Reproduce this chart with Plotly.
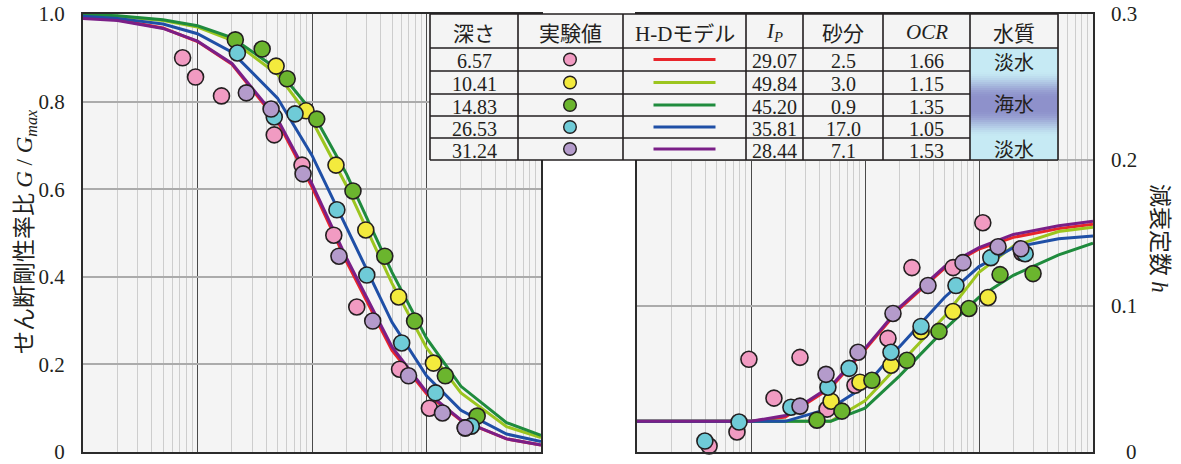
import plotly.graph_objects as go

W, H = 1181, 464

# ---------------- data ----------------
depths = ["6.57", "10.41", "14.83", "26.53", "31.24"]
ip_vals = ["29.07", "49.84", "45.20", "35.81", "28.44"]
sand_vals = ["2.5", "3.0", "0.9", "17.0", "7.1"]
ocr_vals = ["1.66", "1.15", "1.35", "1.05", "1.53"]
water_labels = ["淡水", "海水", "淡水"]

marker_colors = ["#f19bc2", "#f3ea3d", "#6bb52e", "#6fcbd7", "#b49bcb"]
line_colors = ["#e8252b", "#9cc51f", "#1f8b3d", "#1f4fa6", "#7a1f87"]

# strain grid for the H-D model curves
strain_grid = [1e-6, 2e-6, 5e-6, 1e-5, 2e-5, 5e-5, 1e-4, 2e-4, 5e-4, 1e-3, 2e-3, 5e-3, 1e-2]

# G/Gmax model curves
g_model_657 = [0.993, 0.987, 0.968, 0.937, 0.885, 0.755, 0.605, 0.435, 0.232, 0.133, 0.072, 0.030, 0.016]
g_model_1041 = [0.998, 0.995, 0.985, 0.970, 0.940, 0.862, 0.757, 0.608, 0.385, 0.238, 0.135, 0.058, 0.033]
g_model_1483 = [0.999, 0.996, 0.987, 0.973, 0.946, 0.874, 0.777, 0.635, 0.410, 0.260, 0.150, 0.067, 0.038]
g_model_2653 = [0.995, 0.990, 0.977, 0.955, 0.913, 0.808, 0.677, 0.512, 0.296, 0.174, 0.095, 0.041, 0.024]
g_model_3124 = [0.990, 0.985, 0.967, 0.938, 0.887, 0.760, 0.612, 0.443, 0.240, 0.137, 0.073, 0.030, 0.016]

# damping model curves
h_model_657 = [0.021, 0.021, 0.021, 0.021, 0.024, 0.044, 0.070, 0.098, 0.126, 0.139, 0.147, 0.153, 0.156]
h_model_1041 = [0.021, 0.021, 0.021, 0.021, 0.021, 0.021, 0.035, 0.060, 0.093, 0.123, 0.141, 0.151, 0.154]
h_model_1483 = [0.021, 0.021, 0.021, 0.021, 0.021, 0.021, 0.030, 0.052, 0.084, 0.106, 0.121, 0.135, 0.143]
h_model_2653 = [0.021, 0.021, 0.021, 0.021, 0.021, 0.030, 0.045, 0.072, 0.106, 0.127, 0.140, 0.146, 0.148]
h_model_3124 = [0.021, 0.021, 0.021, 0.021, 0.025, 0.045, 0.071, 0.099, 0.127, 0.140, 0.149, 0.155, 0.158]

# G/Gmax test results
g_strain_657 = [7.41e-6, 9.62e-6, 1.62e-5, 4.68e-5, 8.18e-5, 1.55e-4, 2.46e-4, 5.82e-4, 1.06e-3, 2.18e-3]
g_val_657 = [0.900, 0.856, 0.813, 0.724, 0.655, 0.495, 0.331, 0.189, 0.100, 0.055]
g_strain_1041 = [4.86e-5, 8.87e-5, 1.62e-4, 2.95e-4, 5.71e-4, 1.15e-3]
g_val_1041 = [0.881, 0.779, 0.655, 0.507, 0.354, 0.203]
g_strain_1483 = [2.14e-5, 3.67e-5, 6.07e-5, 1.10e-4, 2.28e-4, 4.32e-4, 7.87e-4, 1.46e-3, 2.77e-3]
g_val_1483 = [0.941, 0.920, 0.852, 0.760, 0.596, 0.447, 0.299, 0.174, 0.082]
g_strain_2653 = [2.23e-5, 4.68e-5, 7.11e-5, 1.65e-4, 3.01e-4, 6.07e-4, 1.20e-3, 2.46e-3]
g_val_2653 = [0.911, 0.765, 0.772, 0.553, 0.404, 0.249, 0.135, 0.059]
g_strain_3124 = [2.67e-5, 4.39e-5, 8.36e-5, 1.72e-4, 3.39e-4, 6.97e-4, 1.38e-3, 2.18e-3]
g_val_3124 = [0.820, 0.783, 0.635, 0.447, 0.299, 0.174, 0.089, 0.055]

# damping test results
h_strain_657 = [4.29e-6, 7.53e-6, 9.59e-6, 1.59e-5, 2.69e-5, 4.65e-5, 8.17e-5, 1.59e-4, 2.58e-4, 5.92e-4, 1.08e-3, 2.38e-3]
h_val_657 = [0.0041, 0.0137, 0.0635, 0.0369, 0.0648, 0.0294, 0.0457, 0.0778, 0.1263, 0.1263, 0.1570, 0.1365]
h_strain_1041 = [5.04e-5, 9.03e-5, 1.69e-4, 3.10e-4, 5.92e-4, 1.20e-3]
h_val_1041 = [0.0348, 0.0478, 0.0594, 0.0826, 0.0962, 0.1058]
h_strain_1483 = [3.79e-5, 6.28e-5, 1.15e-4, 2.33e-4, 4.46e-4, 8.16e-4, 1.53e-3, 2.98e-3]
h_val_1483 = [0.0218, 0.0280, 0.0491, 0.0628, 0.0826, 0.0983, 0.1215, 0.1222]
h_strain_2653 = [3.94e-6, 7.85e-6, 2.24e-5, 4.73e-5, 7.25e-5, 1.69e-4, 3.10e-4, 6.28e-4, 1.27e-3, 2.54e-3]
h_val_2653 = [0.0075, 0.0205, 0.0307, 0.0444, 0.0573, 0.0683, 0.0860, 0.1140, 0.1331, 0.1358]
h_strain_3124 = [2.69e-5, 4.55e-5, 8.69e-5, 1.76e-4, 3.57e-4, 7.24e-4, 1.47e-3, 2.33e-3]
h_val_3124 = [0.0314, 0.0532, 0.0683, 0.0949, 0.1140, 0.1297, 0.1406, 0.1392]

left_ticks = [0, 0.2, 0.4, 0.6, 0.8, 1.0]
left_ticktext = ["0", "0.2", "0.4", "0.6", "0.8", "1.0"]
right_ticks = [0, 0.1, 0.2, 0.3]
right_ticktext = ["0", "0.1", "0.2", "0.3"]

g_models = [g_model_657, g_model_1041, g_model_1483, g_model_2653, g_model_3124]
h_models = [h_model_657, h_model_1041, h_model_1483, h_model_2653, h_model_3124]
g_pts = [(g_strain_657, g_val_657), (g_strain_1041, g_val_1041), (g_strain_1483, g_val_1483),
         (g_strain_2653, g_val_2653), (g_strain_3124, g_val_3124)]
h_pts = [(h_strain_657, h_val_657), (h_strain_1041, h_val_1041), (h_strain_1483, h_val_1483),
         (h_strain_2653, h_val_2653), (h_strain_3124, h_val_3124)]

# ---------------- figure ----------------
def px(x):
    return x / W

def py(y):
    return 1 - y / H

fig = go.Figure()

for i in range(5):
    fig.add_trace(go.Scatter(x=strain_grid, y=g_models[i], mode="lines",
                             line=dict(color=line_colors[i], width=3),
                             xaxis="x", yaxis="y", showlegend=False, hoverinfo="skip"))
    fig.add_trace(go.Scatter(x=strain_grid, y=h_models[i], mode="lines",
                             line=dict(color=line_colors[i], width=3),
                             xaxis="x2", yaxis="y2", showlegend=False, hoverinfo="skip"))
for i in range(5):
    fig.add_trace(go.Scatter(x=g_pts[i][0], y=g_pts[i][1], mode="markers",
                             marker=dict(size=16, color=marker_colors[i],
                                         line=dict(color="#231f20", width=1.6)),
                             xaxis="x", yaxis="y", showlegend=False, cliponaxis=False))
    fig.add_trace(go.Scatter(x=h_pts[i][0], y=h_pts[i][1], mode="markers",
                             marker=dict(size=16, color=marker_colors[i],
                                         line=dict(color="#231f20", width=1.6)),
                             xaxis="x2", yaxis="y2", showlegend=False, cliponaxis=False))

tickfont = dict(family="Liberation Serif", size=21, color="#231f20")
xcommon = dict(type="log", range=[-6, -2], dtick=1, showticklabels=False,
               showgrid=True, gridcolor="#4a4a4a", gridwidth=1,
               minor=dict(dtick="D1", showgrid=True, gridcolor="#cdcdcd", gridwidth=1.2),
               showline=True, mirror=True, linecolor="#2b2b2b", linewidth=2,
               ticks="", zeroline=False, automargin=False)
ydom = [py(452), py(14)]

fig.update_layout(
    width=W, height=H, autosize=False,
    margin=dict(l=0, r=0, t=0, b=0, pad=0, autoexpand=False),
    paper_bgcolor="white",
    plot_bgcolor="#f4f4f4",
    xaxis=dict(domain=[px(83), px(541)], anchor="y", **xcommon),
    xaxis2=dict(domain=[px(637), px(1093)], anchor="y2", **xcommon),
    yaxis=dict(domain=ydom, anchor="x", range=[0, 1.0], tickvals=left_ticks,
               ticktext=left_ticktext, tickfont=tickfont, showgrid=True,
               gridcolor="#ababab", gridwidth=1.5, zeroline=False,
               ticks="outside", ticklen=12, tickcolor="rgba(0,0,0,0)",
               ticklabeloverflow="allow", automargin=False,
               showline=True, mirror=True, linecolor="#2b2b2b", linewidth=2),
    yaxis2=dict(domain=ydom, anchor="x2", range=[0, 0.3], tickvals=right_ticks,
                showticklabels=False, showgrid=True, automargin=False,
                gridcolor="#ababab", gridwidth=1.5, zeroline=False, ticks="",
                showline=True, mirror=True, linecolor="#2b2b2b", linewidth=2),
    showlegend=False,
)

annotations = []
# right axis tick labels (right aligned)
for v, t in zip(right_ticks, right_ticktext):
    annotations.append(dict(x=px(1139), y=v, xref="paper", yref="y2", text=t,
                            showarrow=False, xanchor="right", yanchor="middle",
                            font=tickfont))

serif = "font-family:'Liberation Serif'"
annotations.append(dict(
    x=px(22), y=py(232), xref="paper", yref="paper", textangle=-90, showarrow=False,
    text=("せん断剛性率比 <span style=\"" + serif + "\"><i>G</i> / <i>G</i><sub><i>max</i></sub></span>"),
    font=dict(family="Noto Sans CJK JP", size=23, color="#231f20"),
    xanchor="center", yanchor="middle"))
annotations.append(dict(
    x=px(1162), y=py(238), xref="paper", yref="paper", textangle=90, showarrow=False,
    text=("減衰定数 <span style=\"" + serif + "\"><i>h</i></span>"),
    font=dict(family="Noto Sans CJK JP", size=23, color="#231f20"),
    xanchor="center", yanchor="middle"))

# ---------------- table ----------------
col_edges = [430, 518, 623, 746, 803, 883, 970, 1058]
row_edges = [14, 48, 71, 94, 116, 138, 160]
headers = ["深さ", "実験値",
           "<span style=\"" + serif + "\">H-D</span>モデル",
           "<span style=\"" + serif + "\"><i>I</i><sub><i>P</i></sub></span>",
           "砂分",
           "<span style=\"" + serif + "\"><i>OCR</i></span>",
           "水質"]
border = "#231f20"
shapes = []
shapes.append(dict(type="rect", xref="paper", yref="paper", layer="above",
                   x0=px(col_edges[0]), x1=px(col_edges[-1]), y0=py(row_edges[-1]), y1=py(row_edges[0]),
                   fillcolor="#f4f4f4", line=dict(width=0)))
# water-quality gradient column
cyan = (198, 234, 244)
purp = (142, 145, 203)
ytop, ybot = row_edges[1], row_edges[-1]
ymid = (ytop + ybot) / 2
half = (ybot - ytop) / 2
step = 2
yy = ytop
while yy < ybot:
    t = abs(yy + step / 2 - ymid) / half
    p = min(1.0, max(0.0, 1 - (t - 0.1) / 0.5))
    p = p * p * (3 - 2 * p)
    c = tuple(int(round(cyan[k] * (1 - p) + purp[k] * p)) for k in range(3))
    shapes.append(dict(type="rect", xref="paper", yref="paper", layer="above",
                       x0=px(col_edges[-2]), x1=px(col_edges[-1]),
                       y0=py(min(yy + step + 0.5, ybot)), y1=py(yy),
                       fillcolor="rgb(%d,%d,%d)" % c, line=dict(width=0)))
    yy += step
# borders
for r in row_edges:
    xe = col_edges[-1] if r in (row_edges[0], row_edges[1], row_edges[-1]) else col_edges[-2]
    shapes.append(dict(type="line", xref="paper", yref="paper", layer="above",
                       x0=px(col_edges[0]), x1=px(xe), y0=py(r), y1=py(r),
                       line=dict(color=border, width=1.6)))
for c in col_edges:
    shapes.append(dict(type="line", xref="paper", yref="paper", layer="above",
                       x0=px(c), x1=px(c), y0=py(row_edges[0]), y1=py(row_edges[-1]),
                       line=dict(color=border, width=1.6)))
# header text
for j, htxt in enumerate(headers):
    annotations.append(dict(x=px((col_edges[j] + col_edges[j + 1]) / 2), y=py(32),
                            xref="paper", yref="paper", text=htxt, showarrow=False,
                            font=dict(family="Noto Sans CJK JP", size=21, color="#231f20"),
                            xanchor="center", yanchor="middle"))
numfont = dict(family="Liberation Serif", size=20, color="#231f20")
for i in range(5):
    yc = (row_edges[i + 1] + row_edges[i + 2]) / 2 + 1.5
    for j, col in [(0, depths), (3, ip_vals), (4, sand_vals), (5, ocr_vals)]:
        annotations.append(dict(x=px((col_edges[j] + col_edges[j + 1]) / 2), y=py(yc),
                                xref="paper", yref="paper", text=col[i], showarrow=False,
                                font=numfont, xanchor="center", yanchor="middle"))
    # marker symbol
    mx = (col_edges[1] + col_edges[2]) / 2 - 0.5
    yc0 = (row_edges[i + 1] + row_edges[i + 2]) / 2
    r = 6.3
    shapes.append(dict(type="circle", xref="paper", yref="paper", layer="above",
                       x0=px(mx - r), x1=px(mx + r), y0=py(yc0 + r), y1=py(yc0 - r),
                       fillcolor=marker_colors[i], line=dict(color=border, width=1.4)))
    # line symbol
    lx = (col_edges[2] + col_edges[3]) / 2
    shapes.append(dict(type="line", xref="paper", yref="paper", layer="above",
                       x0=px(lx - 31), x1=px(lx + 31), y0=py(yc0), y1=py(yc0),
                       line=dict(color=line_colors[i], width=3.2)))
# water labels
wx = px((col_edges[-2] + col_edges[-1]) / 2)
water_rows_y = [(row_edges[1] + row_edges[2]) / 2 + 1.5,
                (row_edges[1] + row_edges[-1]) / 2 - 0.5,
                (row_edges[5] + row_edges[6]) / 2 - 1]
for t, yv in zip(water_labels, water_rows_y):
    annotations.append(dict(x=wx, y=py(yv), xref="paper", yref="paper", text=t,
                            showarrow=False, font=dict(family="Noto Sans CJK JP", size=20, color="#231f20"),
                            xanchor="center", yanchor="middle"))

fig.update_layout(shapes=shapes, annotations=annotations)
fig.write_html("out.html", config={"displayModeBar": False},
               post_script="document.body.style.margin='0px';document.body.style.overflow='hidden';")
